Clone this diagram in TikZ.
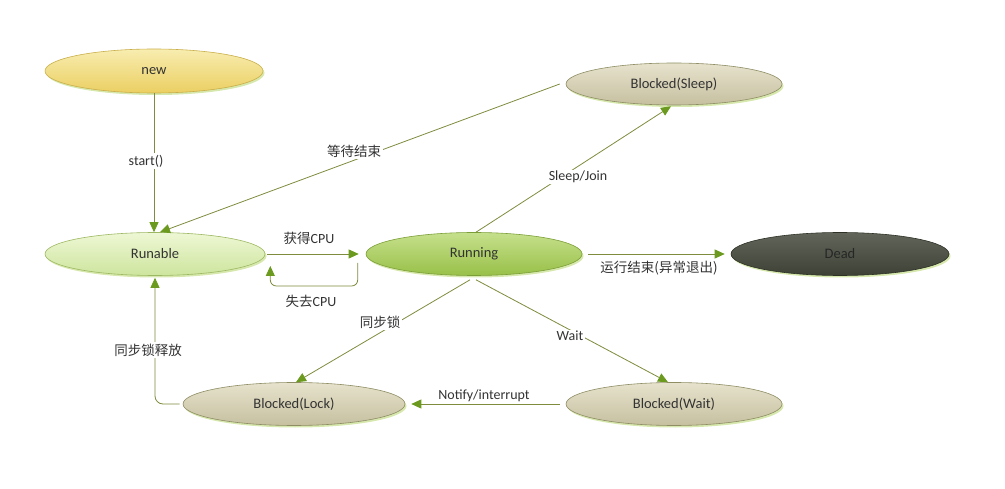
\documentclass[tikz,border=0pt]{standalone}
\usepackage{fontspec}
\setmainfont{Carlito}
\newfontfamily\cjk{Noto Sans CJK SC}
\usetikzlibrary{arrows.meta,shapes.geometric,shadows,calc}
\definecolor{edgec}{HTML}{7E8C3E}
\definecolor{tipc}{HTML}{6B9A1F}
\definecolor{txt}{HTML}{333333}
\definecolor{glow}{HTML}{D2E6A4}
\definecolor{newT}{HTML}{F8EDB0}\definecolor{newB}{HTML}{EBCF62}\definecolor{newD}{HTML}{C9AE4A}
\definecolor{rnbT}{HTML}{EEF7D4}\definecolor{rnbB}{HTML}{CDE59E}\definecolor{rnbD}{HTML}{9DB862}
\definecolor{runT}{HTML}{C6E08C}\definecolor{runB}{HTML}{98C048}\definecolor{runD}{HTML}{7C9E38}
\definecolor{blkT}{HTML}{E6E2CC}\definecolor{blkB}{HTML}{C6C0A0}\definecolor{blkD}{HTML}{8E8D64}
\definecolor{deadT}{HTML}{62665A}\definecolor{deadB}{HTML}{3E4236}\definecolor{deadD}{HTML}{2E3226}
\tikzset{
  state/.style={ellipse, line width=0.6pt, minimum width=218pt, minimum height=43pt,
    inner sep=0pt, font=\fontsize{14.5}{17}\selectfont, text=txt,
    drop shadow={shadow xshift=1.5pt, shadow yshift=-2pt, fill=glow, opacity=0.9}},
  newst/.style={state, draw=newD, top color=newT, bottom color=newB},
  rnbst/.style={state, draw=rnbD, top color=rnbT, bottom color=rnbB},
  runst/.style={state, draw=runD, top color=runT, bottom color=runB},
  blkst/.style={state, draw=blkD, top color=blkT, bottom color=blkB},
  deadst/.style={state, draw=deadD, top color=deadT, bottom color=deadB, text=black!85},
  edge/.style={draw=edgec, line width=0.8pt, -{Triangle[length=10pt,width=9pt,color=tipc]}},
  lab/.style={font=\fontsize{14}{16}\selectfont, text=txt, inner sep=1.5pt},
  labw/.style={lab, fill=white},
  cj/.style={font=\fontsize{13.5}{16}\cjk},
}
\begin{document}
\begin{tikzpicture}[x=1pt, y=-1pt]
\useasboundingbox (0,0) rectangle (1005,489);
% states
\node[newst, minimum height=44pt] (new) at (154,71) {new};
\node[blkst, minimum width=216pt, minimum height=42pt] (sleep) at (674,84) {Blocked(Sleep)};
\node[rnbst, minimum width=220pt] (rnb) at (155,254) {Runable};
\node[runst, minimum width=216pt] (run) at (474,254) {Running};
\node[deadst] (dead) at (840,254) {Dead};
\node[blkst, minimum width=222pt] (lock) at (294,404) {Blocked(Lock)};
\node[blkst, minimum width=216pt] (wait) at (674,404) {Blocked(Wait)};
% transitions
\draw[edge] (new.south) -- (new.south |- rnb.north)
  node[labw] at (146,161) {start()};
\draw[edge] ($(sleep.west)+(-6,0)$) -- ($(rnb.north)+(5,0)$)
  node[labw, cj] at (354,151) {等待结束};
\draw[edge] ($(run.north)+(2,0)$) -- ($(sleep.south)+(-3,1)$)
  node[labw] at (578,177) {Sleep/Join};
\draw[edge] ($(rnb.east)+(2,0)$) -- ($(run.west)+(-7,0)$)
  node[lab] at (309,238) {{\cjk\fontsize{13.5}{16}\selectfont 获得}CPU};
\draw[edge, rounded corners=6pt] ($(run.west)+(-8,9)$) -- ++(0,23) -| ($(rnb.east)+(5,12)$)
  node[lab] at (311,301) {{\cjk\fontsize{13.5}{16}\selectfont 失去}CPU};
\draw[edge] ($(run.east)+(6,0)$) -- ($(dead.west)+(-6,0)$)
  node[lab, cj] at (659,268) {运行结束(异常退出)};
\draw[edge] ($(run.south)+(-4,4)$) -- ($(lock.north)+(2,0)$)
  node[labw, cj] at (380,322) {同步锁};
\draw[edge] ($(run.south)+(2,4)$) -- ($(wait.north)+(-6,0)$)
  node[labw] at (570,336) {Wait};
\draw[edge] ($(wait.west)+(-6,0)$) -- ($(lock.east)+(6,0)$)
  node[lab] at (484,396) {Notify/interrupt};
\draw[edge, rounded corners=8pt] ($(lock.west)+(-3,0)$) -| ($(rnb.south)+(0,2)$)
  node[labw, cj] at (148,350) {同步锁释放};
\end{tikzpicture}
\end{document}
